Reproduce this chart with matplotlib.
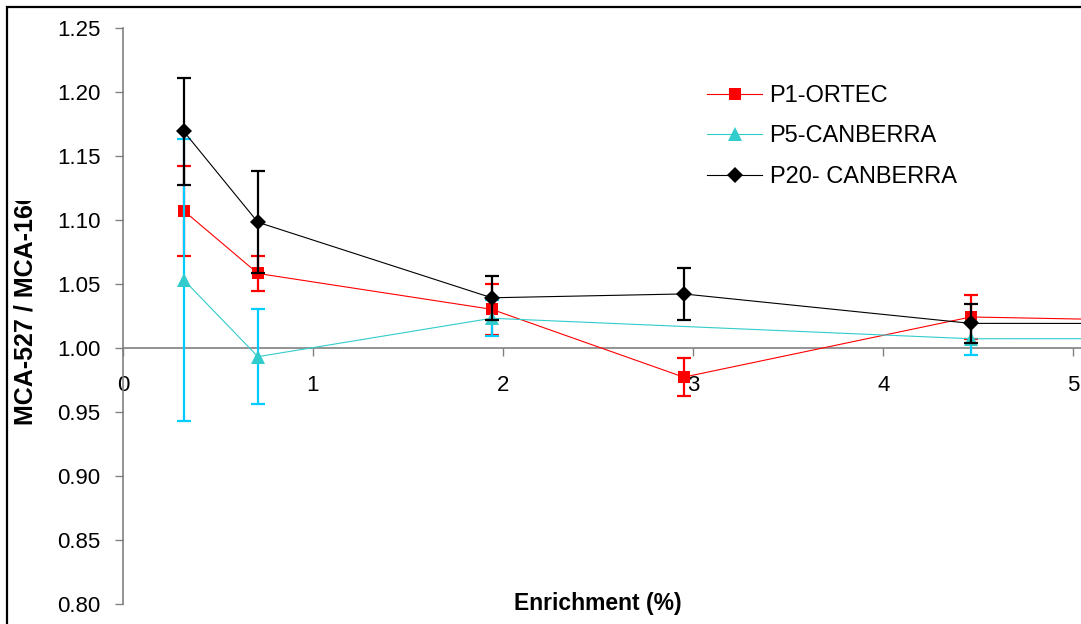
import numpy as np
import matplotlib
matplotlib.use("Agg")
import matplotlib.pyplot as plt
from matplotlib.patches import Rectangle
from matplotlib.lines import Line2D
from matplotlib.transforms import Bbox, TransformedBbox

# Uranium enrichment of the reference standards (%)
enrich = [0.32, 0.71, 1.94, 2.95, 4.46, 20.1]
enrich_p5 = [0.32, 0.71, 1.94, 4.46, 20.1]

# MCA-527 / MCA-166 ratio and its uncertainty for each probe
p1_ortec = [1.107, 1.058, 1.030, 0.977, 1.024, 0.980]
p1_err = [0.035, 0.014, 0.020, 0.015, 0.017, 0.0]

p5_canberra = [1.053, 0.993, 1.023, 1.007, 1.008]
p5_err = [0.110, 0.037, 0.014, 0.013, 0.0]

p20_canberra = [1.169, 1.098, 1.039, 1.042, 1.019, 1.018]
p20_err = [0.042, 0.040, 0.017, 0.020, 0.015, 0.0]

series_labels = ["P1-ORTEC", "P5-CANBERRA", "P20- CANBERRA"]
y_ticks = [0.80, 0.85, 0.90, 0.95, 1.00, 1.05, 1.10, 1.15, 1.20, 1.25]
x_ticks = [0, 1, 2, 3, 4, 5]

plt.rcParams["font.family"] = ["Liberation Sans", "DejaVu Sans"]

W, H = 1081, 624
fig = plt.figure(figsize=(W / 100, H / 100), dpi=100)

x0_px, px_per_unit = 122.9, 190.1
top_px, bot_px = 27.7, 603.7
ax = fig.add_axes([x0_px / W, (H - bot_px) / H, (W - x0_px) / W, (bot_px - top_px) / H])
ax.set_xlim(0, (W - x0_px) / px_per_unit)
ax.set_ylim(0.80, 1.25)
ax.patch.set_alpha(0)

# Chart frame
fig.patches.append(Rectangle((7 / W, -0.1), 1.2, (H - 6.5) / H + 0.1,
                             transform=fig.transFigure, fill=False,
                             edgecolor="black", linewidth=1.6, zorder=0))

series = [
    (enrich, p1_ortec, p1_err, "#FF0000", "#FF0000", "s", 8.6),
    (enrich_p5, p5_canberra, p5_err, "#33CCCC", "#00CCFF", "^", 9.6),
    (enrich, p20_canberra, p20_err, "black", "black", "D", 7.8),
]
for i, (xs, ys, es, col, ecol, mk, ms) in enumerate(series):
    ax.errorbar(xs, ys, yerr=es, fmt="none", ecolor=ecol, elinewidth=1.6,
                capsize=5, capthick=1.6, zorder=3 + 2 * i)
    ax.plot(xs, ys, color=col, linewidth=0.8, marker=mk, markersize=ms,
            markeredgewidth=0, zorder=4 + 2 * i)

# Axes styling: y axis on the left, x axis crossing at 1.00
for side in ("top", "right"):
    ax.spines[side].set_visible(False)
ax.spines["left"].set_color("#808080")
ax.spines["left"].set_linewidth(1.2)
ax.spines["bottom"].set_position(("data", 1.0))
ax.spines["bottom"].set_color("#808080")
ax.spines["bottom"].set_linewidth(1.2)

ax.set_yticks(y_ticks)
ax.set_yticklabels([f"{v:.2f}" for v in y_ticks])
ax.set_xticks(x_ticks)
ax.set_xticklabels([str(v) for v in x_ticks])
ax.tick_params(axis="y", direction="out", length=6, width=1, color="#808080",
               pad=10, labelsize=16, labelcolor="black")
ax.tick_params(axis="x", direction="out", length=6, width=1, color="#808080",
               pad=14, labelsize=16, labelcolor="black")

# Axis titles
fig.text(598 / W, (H - 610) / H, "Enrichment (%)", ha="center", va="baseline",
         fontsize=16.5, fontweight="bold")
ylab = fig.text(25.5 / W, (H - 425) / H, "MCA-527 / MCA-166", rotation=90,
                ha="center", va="bottom", fontsize=18, fontweight="bold")
ylab.set_clip_box(TransformedBbox(Bbox([[0, 0], [1, (H - 201) / H]]), fig.transFigure))
ylab.set_clip_on(True)

# Legend (lines with markers, no error bars)
handles = [
    Line2D([], [], color=col, lw=0.8, marker=mk, ms=ms, mew=0)
    for (_, _, _, col, _, mk, ms) in series
]
ax.legend(handles, series_labels, loc="upper left",
          bbox_to_anchor=(707 / W, (H - 85) / H), bbox_transform=fig.transFigure,
          frameon=False, fontsize=17, handlelength=2.35, handletextpad=0.3,
          labelspacing=0.78, borderpad=0, borderaxespad=0, numpoints=1)

fig.savefig("out.png", dpi=100)
